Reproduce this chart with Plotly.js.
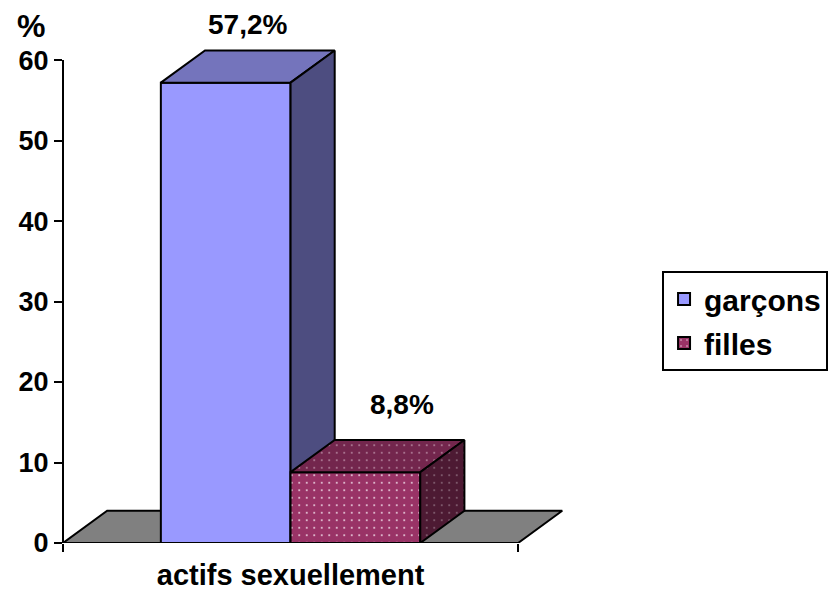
<!DOCTYPE html>
<html><head><meta charset="utf-8">
<script src="https://cdn.plot.ly/plotly-3.0.1.min.js"></script>
<style>html,body{margin:0;padding:0;background:#fff}#chart{width:832px;height:595px}</style>
</head><body><div id="chart"></div>
<script>
// ---- data ----
const categories = ['actifs sexuellement'];
const seriesNames = ['garçons', 'filles'];
const garconsValues = [57.2];
const fillesValues = [8.8];
const garconsLabels = ['57,2%'];
const fillesLabels = ['8,8%'];
const yTickVals = [0, 10, 20, 30, 40, 50, 60];
const yTickText = ['0', '10', '20', '30', '40', '50', '60'];
const yAxisTitle = '%';

// ---- style ----
const FONT = 'Liberation Sans, Arial, sans-serif';
const barW = 0.285;          // width of each bar (x units)
const DX = 0.097, DY = 4.0;  // oblique depth offset
const styles = [
  {front: '#9999FF', top: '#7474BC', side: '#4D4D80', pattern: null, labelXShift: 0, labelYShift: 26},
  {front: '#993366', top: '#73264D', side: '#4D1A33',
   pattern: {front: '#F2E0EA', top: '#B88AA2', side: '#8C6B7C'}, labelXShift: 25, labelYShift: 35}
];
const series = [
  {name: seriesNames[0], values: garconsValues, labels: garconsLabels},
  {name: seriesNames[1], values: fillesValues, labels: fillesLabels}
];
const nCat = categories.length;
const catPos = categories.map((c, j) => j + 0.5);

function pat(bg, fg) {
  return {shape: '.', bgcolor: bg, fgcolor: fg, size: 7.5, solidity: 0.05, fillmode: 'replace'};
}

const traces = [];
// floor
traces.push({
  type: 'scatter', mode: 'lines', xaxis: 'x', yaxis: 'y',
  x: [0, nCat, nCat + DX, DX, 0], y: [0, 0, DY, DY, 0],
  fill: 'toself', fillcolor: '#808080', line: {color: '#000', width: 2},
  showlegend: false, hoverinfo: 'skip'
});

const annotations = [];
series.forEach((s, i) => {
  const st = styles[i];
  const ax = 'x' + (i + 2), ay = 'y' + (i + 2);
  const offset = (i - series.length / 2) * barW;
  const bar = {
    type: 'bar', name: s.name, xaxis: ax, yaxis: ay, legendgroup: s.name,
    x: catPos, y: s.values, width: catPos.map(() => barW), offset: offset,
    marker: {color: st.front, line: {color: '#000', width: 2}},
    hoverinfo: 'skip'
  };
  if (st.pattern) bar.marker.pattern = pat(st.front, st.pattern.front);
  traces.push(bar);
  // top & side faces
  const tx = [], ty = [], sx = [], sy = [];
  catPos.forEach((p, j) => {
    const x0 = p + offset, x1 = x0 + barW, v = s.values[j];
    tx.push(x0, x1, x1 + DX, x0 + DX, x0, null);
    ty.push(v, v, v + DY, v + DY, v, null);
    sx.push(x1, x1, x1 + DX, x1 + DX, x1, null);
    sy.push(0, v, v + DY, DY, 0, null);
    annotations.push({
      xref: ax, yref: ay, x: x0 + barW / 2 + DX / 2, y: v + DY,
      text: s.labels[j], showarrow: false, xanchor: 'center', yanchor: 'middle',
      xshift: st.labelXShift, yshift: st.labelYShift,
      font: {family: FONT, size: 28, color: '#000', weight: 'bold'}
    });
  });
  const top = {type: 'scatter', mode: 'lines', xaxis: ax, yaxis: ay, x: tx, y: ty,
    fill: 'toself', fillcolor: st.top, line: {color: '#000', width: 2}, showlegend: false, hoverinfo: 'skip'};
  const side = {type: 'scatter', mode: 'lines', xaxis: ax, yaxis: ay, x: sx, y: sy,
    fill: 'toself', fillcolor: st.side, line: {color: '#000', width: 2}, showlegend: false, hoverinfo: 'skip'};
  if (st.pattern) {
    top.fillpattern = pat(st.top, st.pattern.top);
    side.fillpattern = pat(st.side, st.pattern.side);
  }
  traces.push(top, side);
});

annotations.push({
  xref: 'paper', yref: 'paper', x: -0.062, y: 1.036, text: yAxisTitle, showarrow: false,
  xanchor: 'center', yanchor: 'middle', font: {family: FONT, size: 32, color: '#000', weight: 'bold'}
});

const XR = [0, 1.125], YR = [0, 62];
const hiddenX = {range: XR, visible: false, overlaying: 'x', fixedrange: true};
const hiddenY = {range: YR, visible: false, overlaying: 'y', fixedrange: true};

const layout = {
  width: 832, height: 595,
  margin: {l: 63, r: 257, t: 44, b: 52, autoexpand: false},
  paper_bgcolor: '#fff', plot_bgcolor: 'rgba(0,0,0,0)',
  font: {family: FONT, color: '#000'},
  showlegend: true, hovermode: false,
  xaxis: {
    range: XR, showgrid: false, zeroline: false, showline: false, fixedrange: true,
    tickmode: 'array', tickvals: catPos, ticktext: categories, ticks: '',
    ticklabelstandoff: 12,
    tickfont: {family: FONT, size: 29, color: '#000', weight: 'bold'},
    minor: {tickmode: 'array', tickvals: [0, nCat], ticks: 'outside', ticklen: 8, tickwidth: 2, tickcolor: '#000', showgrid: false}
  },
  yaxis: {
    range: YR, showgrid: false, zeroline: false, showline: false, fixedrange: true,
    tickmode: 'array', tickvals: yTickVals, ticktext: yTickText,
    ticks: 'outside', ticklen: 8, tickwidth: 2, tickcolor: '#000',
    tickfont: {family: FONT, size: 27, color: '#000', weight: 'bold'}
  },
  xaxis2: hiddenX, yaxis2: hiddenY, xaxis3: hiddenX, yaxis3: hiddenY,
  legend: {
    x: 1.17, y: 0.545, xanchor: 'left', yanchor: 'top',
    bgcolor: '#fff', bordercolor: '#000', borderwidth: 2,
    tracegroupgap: 2,
    font: {family: FONT, size: 30, color: '#000', weight: 'bold'}
  },
  shapes: [
    {type: 'line', xref: 'paper', yref: 'y', x0: 0, x1: 0, y0: 0, y1: yTickVals[yTickVals.length - 1], line: {color: '#000', width: 2}},
    {type: 'line', xref: 'x', yref: 'y', x0: 0, x1: nCat, y0: 0, y1: 0, line: {color: '#000', width: 2}}
  ],
  annotations: annotations
};

Plotly.newPlot('chart', traces, layout, {displayModeBar: false, staticPlot: true});
</script></body></html>
